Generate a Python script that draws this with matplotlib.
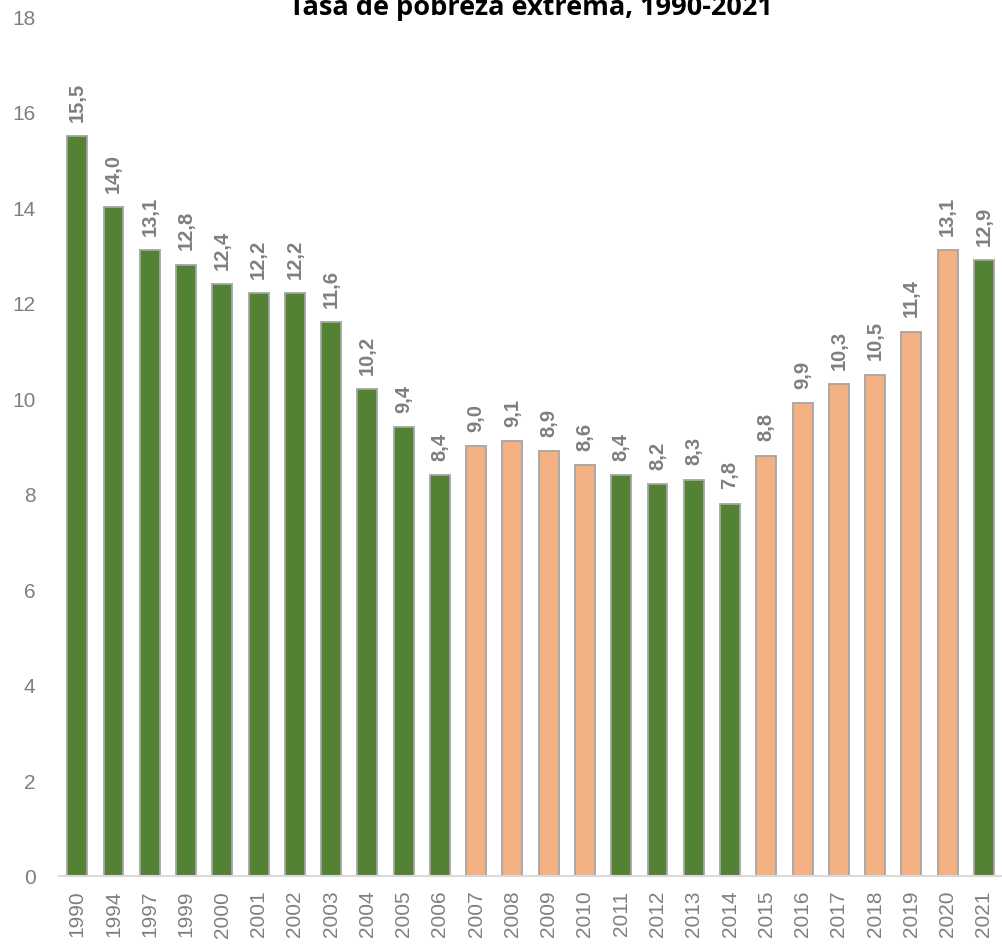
import matplotlib.pyplot as plt

# Datos
anios = ['1990', '1994', '1997', '1999', '2000', '2001', '2002', '2003', '2004',
         '2005', '2006', '2007', '2008', '2009', '2010', '2011', '2012', '2013',
         '2014', '2015', '2016', '2017', '2018', '2019', '2020', '2021']
tasa = [15.5, 14.0, 13.1, 12.8, 12.4, 12.2, 12.2, 11.6, 10.2, 9.4, 8.4, 9.0, 9.1,
        8.9, 8.6, 8.4, 8.2, 8.3, 7.8, 8.8, 9.9, 10.3, 10.5, 11.4, 13.1, 12.9]
grupo = ['v', 'v', 'v', 'v', 'v', 'v', 'v', 'v', 'v', 'v', 'v', 'n', 'n', 'n',
         'n', 'v', 'v', 'v', 'v', 'n', 'n', 'n', 'n', 'n', 'n', 'v']

colores = {'v': '#548235', 'n': '#F4B183'}
gris = '#7F7F7F'

fig = plt.figure(figsize=(10.02, 9.45), dpi=100)
ax = fig.add_axes([0.059, 0.072, 0.941, 0.9095])

x = range(len(anios))
ax.bar(x, tasa, width=0.55, color=[colores[g] for g in grupo],
       edgecolor='#A5A5A5', linewidth=1.3, zorder=2)

# Etiquetas de valor
for xi, v in zip(x, tasa):
    ax.annotate(f'{v:.1f}'.replace('.', ','), xy=(xi, v), xytext=(0, 11),
                textcoords='offset points', ha='center', va='bottom',
                rotation=90, fontsize=14.5, fontweight='bold', color=gris,
                family='Liberation Sans')

ax.set_xlim(-0.5, len(anios) - 0.5)
ax.set_ylim(0, 18)
ax.set_yticks(range(0, 19, 2))
ax.set_xticks(list(x))
ax.set_xticklabels(anios, rotation=90)
ax.tick_params(axis='both', length=0, colors=gris, labelsize=15)
ax.tick_params(axis='x', pad=10)
ax.tick_params(axis='y', pad=17)
for lab in ax.get_xticklabels() + ax.get_yticklabels():
    lab.set_family('Liberation Sans')

for s in ['top', 'right', 'left']:
    ax.spines[s].set_visible(False)
ax.spines['bottom'].set_color('#D9D9D9')
ax.spines['bottom'].set_linewidth(1.5)

fig.text(0.53, 0.992, 'Tasa de pobreza extrema, 1990-2021', ha='center',
         va='center', fontsize=19.5, fontweight='bold', family='Open Sans',
         color='#000000')

fig.savefig('out.png', dpi=100)
